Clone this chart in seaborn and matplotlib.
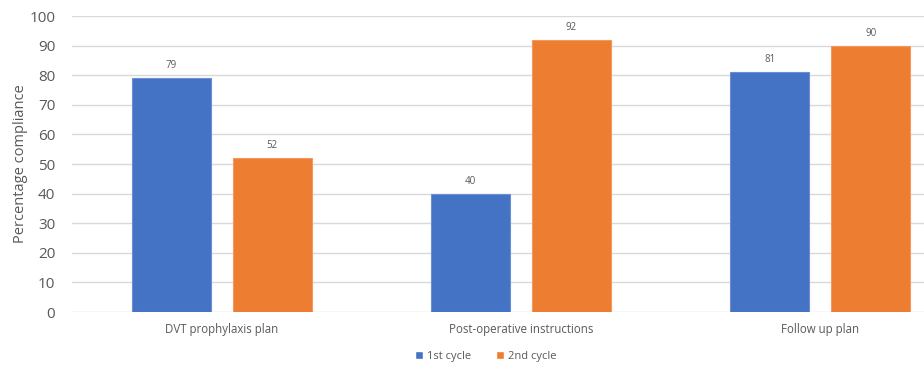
import matplotlib
matplotlib.use("Agg")
import matplotlib.pyplot as plt
import seaborn as sns
import pandas as pd

categories = ["DVT prophylaxis plan", "Post-operative instructions", "Follow up plan"]
cycles = ["1st cycle", "2nd cycle"]
first_cycle = [79, 40, 81]
second_cycle = [52, 92, 90]
y_ticks = [0, 10, 20, 30, 40, 50, 60, 70, 80, 90, 100]

df = pd.DataFrame({
    "category": categories * 2,
    "cycle": [cycles[0]] * 3 + [cycles[1]] * 3,
    "value": first_cycle + second_cycle,
})

sns.set_theme(style="white")
plt.rcParams["font.family"] = ["Open Sans", "DejaVu Sans"]
text_col = "#595959"

fig = plt.figure(figsize=(9.24, 3.69), dpi=100)
ax = fig.add_axes([72 / 924, 1 - 312 / 369, 898 / 924, 296 / 369])

sns.barplot(data=df, x="category", y="value", hue="cycle", order=categories,
            hue_order=cycles, palette=["#4472C4", "#ED7D31"], width=0.674, gap=0.217,
            ax=ax, saturation=1, legend=True)

# lichte rand rond de balken
edge_cols = {"1st cycle": "#6A8FD3", "2nd cycle": "#F29A5E"}
for cont, cyc in zip(ax.containers, cycles):
    for p in cont.patches:
        p.set_edgecolor(edge_cols[cyc])
        p.set_linewidth(0.8)
    ax.bar_label(cont, fmt="%d", padding=5, fontsize=7, color=text_col)

ax.set_ylim(0, 100)
ax.set_yticks(y_ticks)
ax.yaxis.grid(True, color="#D9D9D9", linewidth=1)
ax.set_axisbelow(True)
for s in ax.spines.values():
    s.set_visible(False)
ax.tick_params(axis="y", labelsize=11, colors=text_col, length=0, pad=12)
ax.tick_params(axis="x", labelsize=8.3, colors=text_col, length=0, pad=8)
ax.set_xlabel("")
ax.set_ylabel("Percentage compliance", fontsize=10.5, color=text_col, labelpad=1)

ax.legend_.remove()
handles, labels = ax.get_legend_handles_labels()
fig.legend(handles, labels, loc="center", bbox_to_anchor=(486 / 924, 1 - 356 / 369),
           ncol=2, frameon=False, fontsize=8, labelcolor=text_col,
           handlelength=0.7, handleheight=0.7, handletextpad=0.4, columnspacing=2.2)

fig.savefig("out.png", dpi=100)
